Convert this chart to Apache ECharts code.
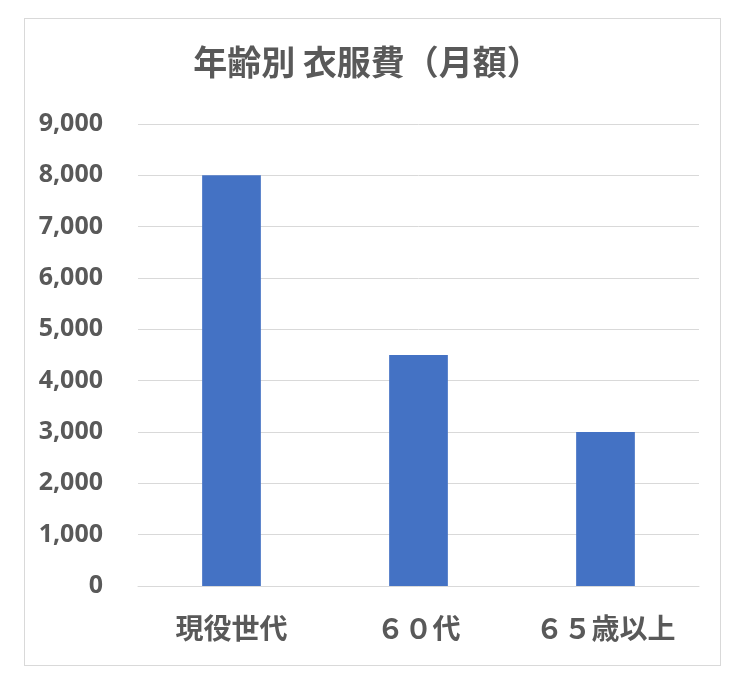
<!DOCTYPE html>
<html><head><meta charset="utf-8">
<script src="https://cdn.jsdelivr.net/npm/echarts@6/dist/echarts.min.js"></script>
<style>html,body{margin:0;padding:0;background:#fff}#c{width:744px;height:692px}
#frame{position:absolute;left:24px;top:18px;width:695px;height:646px;border:1px solid #d9d9d9;pointer-events:none}</style>
</head><body><div id="c"></div><div id="frame"></div>
<script>
const categories = ['現役世代', '６０代', '６５歳以上'];
const values = [8000, 4500, 3000];
const titleText = '年齢別 衣服費（月額）';
const font = '"Noto Sans CJK JP", "Noto Sans", sans-serif';
const chart = echarts.init(document.getElementById('c'));
chart.setOption({
  animation: false,
  title: { text: titleText, left: 362, top: 40, textAlign: 'center',
    textStyle: { fontFamily: font, fontSize: 34, fontWeight: 'bold', color: '#595959' } },
  grid: { left: 138, right: 45, top: 124, bottom: 106 },
  xAxis: { type: 'category', data: categories,
    axisLine: { lineStyle: { color: '#d9d9d9' } }, axisTick: { show: false },
    axisLabel: { fontFamily: font, fontSize: 28, fontWeight: 'bold', color: '#595959', margin: 28 } },
  yAxis: { type: 'value', min: 0, max: 9000, interval: 1000,
    axisLine: { show: false }, axisTick: { show: false },
    splitLine: { lineStyle: { color: '#d9d9d9' } },
    axisLabel: { fontFamily: '"Noto Sans", sans-serif', fontSize: 25, fontWeight: 'bold', color: '#595959', margin: 35,
      formatter: v => v.toLocaleString('en-US') } },
  series: [{ type: 'bar', data: values, barWidth: '31.4%', itemStyle: { color: '#4472c4' } }]
});
</script></body></html>
